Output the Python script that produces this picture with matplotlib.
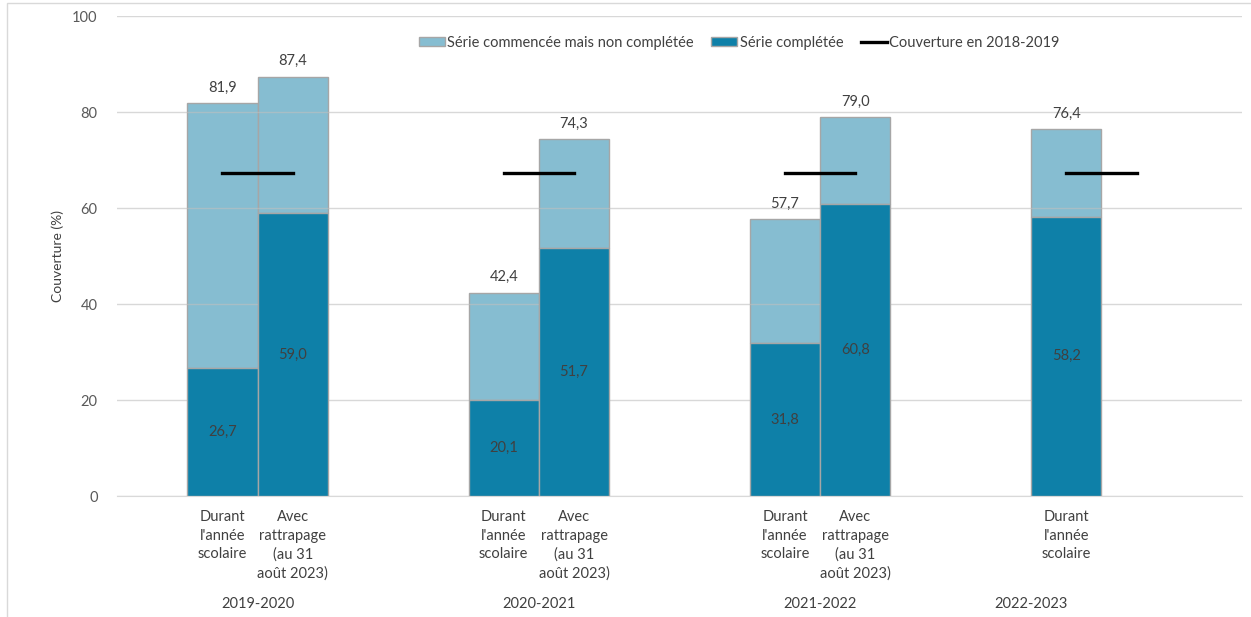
import matplotlib.pyplot as plt
import numpy as np
from matplotlib.patches import Rectangle
from matplotlib.transforms import blended_transform_factory

plt.rcParams['font.family'] = ['Lato', 'DejaVu Sans']

# slots on the category axis (Excel-style, with blank slots between groups)
n_slots = 16
bar_slots = [1, 2, 5, 6, 9, 10, 13]
bar_labels = ["Durant\nl'année\nscolaire", "Avec\nrattrapage\n(au 31\naoût 2023)",
              "Durant\nl'année\nscolaire", "Avec\nrattrapage\n(au 31\naoût 2023)",
              "Durant\nl'année\nscolaire", "Avec\nrattrapage\n(au 31\naoût 2023)",
              "Durant\nl'année\nscolaire"]
completed = [26.7, 59.0, 20.1, 51.7, 31.8, 60.8, 58.2]
totals = [81.9, 87.4, 42.4, 74.3, 57.7, 79.0, 76.4]
started = [t - c for t, c in zip(totals, completed)]

ref_slots = [1, 2, np.nan, 5, 6, np.nan, 9, 10, np.nan, 13, 14]
ref_value = 67.4

groups = ['2019-2020', '2020-2021', '2021-2022', '2022-2023']
group_pos = [1.5, 5.5, 9.5, 12.5]

light = '#86BDD1'
dark = '#0E80A8'
edge = '#A6A6A6'
txt = '#404040'
tick_col = '#595959'

fig = plt.figure(figsize=(12.51, 6.17), dpi=100)
ax = fig.add_axes([117 / 1251, 0.196, 1125 / 1251, 0.778])

b_done = ax.bar(bar_slots, completed, width=1.0, color=dark, edgecolor=edge,
                linewidth=1, zorder=3)
b_start = ax.bar(bar_slots, started, bottom=completed, width=1.0, color=light,
                 edgecolor=edge, linewidth=1, zorder=1)
ref_y = [ref_value if not np.isnan(s) else np.nan for s in ref_slots]
ln, = ax.plot(ref_slots, ref_y, color='black', lw=2.4, zorder=4)

for x, c, t in zip(bar_slots, completed, totals):
    ax.text(x, c / 2, f'{c:.1f}'.replace('.', ','), ha='center', va='center',
            fontsize=10.5, color=txt, zorder=5)
    ax.annotate(f'{t:.1f}'.replace('.', ','), (x, t), xytext=(0, 6),
                textcoords='offset points', ha='center', va='bottom',
                fontsize=10.5, color=txt)

ax.set_xlim(-0.5, n_slots - 0.5)
ax.set_ylim(0, 100)
ax.set_yticks(range(0, 101, 20))
ax.yaxis.grid(True, color='#BFBFBF', alpha=0.6, lw=1, zorder=2)
ax.set_axisbelow(False)
ax.tick_params(axis='y', length=0, pad=14, labelsize=10.5, labelcolor=tick_col)
ax.set_xticks(bar_slots)
ax.set_xticklabels(bar_labels, fontsize=10.5, color=txt, linespacing=1.42)
ax.tick_params(axis='x', length=0, pad=10)
for s in ['top', 'right', 'left']:
    ax.spines[s].set_visible(False)
ax.spines['bottom'].set_color('#D9D9D9')
ax.set_ylabel('Couverture (%)', fontsize=10, color=txt, labelpad=6)

tr = blended_transform_factory(ax.transData, ax.transAxes)
for g, p in zip(groups, group_pos):
    ax.text(p, -0.225, g, transform=tr, ha='center', va='center',
            fontsize=10.5, color=txt)

ax.legend([b_start, b_done, ln],
          ['Série commencée mais non complétée', 'Série complétée',
           'Couverture en 2018-2019'], ncol=3,
          loc='center', bbox_to_anchor=(0.553, 0.944), frameon=False,
          fontsize=10.5, handlelength=1.8, handleheight=0.6,
          handletextpad=0.15, columnspacing=1.2, labelcolor=txt)

fig.patches.append(Rectangle((7 / 1251, -0.1), 1.2, 1.1 - 3 / 617,
                             transform=fig.transFigure, fill=False,
                             edgecolor='#D9D9D9', lw=1))

fig.savefig('out.png', dpi=100)
